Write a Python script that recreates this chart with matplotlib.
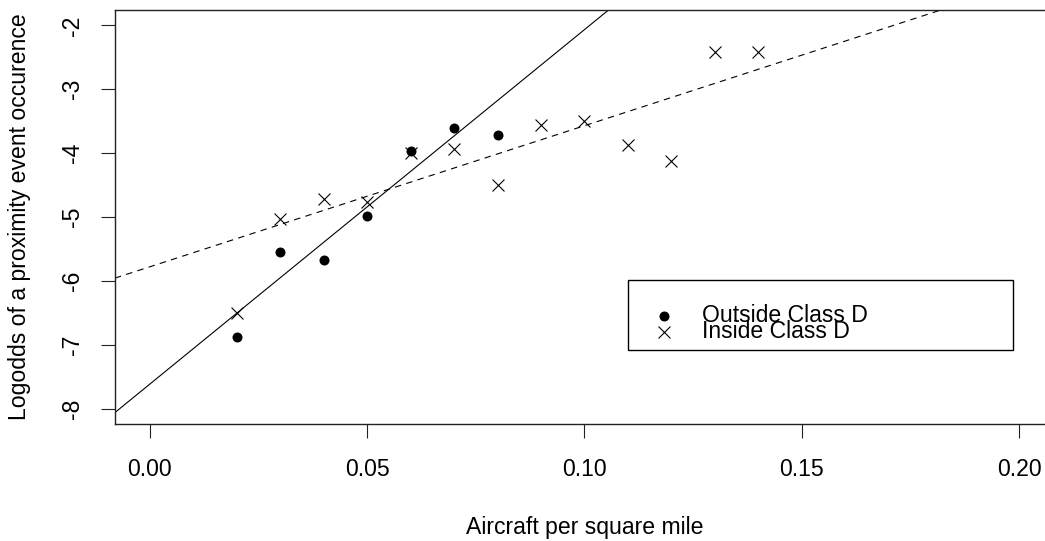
import numpy as np
import matplotlib
matplotlib.use('Agg')
import matplotlib.pyplot as plt
from matplotlib.patches import Rectangle

plt.rcParams['font.family'] = ['Liberation Sans', 'DejaVu Sans']
plt.rcParams['axes.unicode_minus'] = False

# density of aircraft vs. log odds, outside / inside class D airspace
xOut = [0.02, 0.03, 0.04, 0.05, 0.06, 0.07, 0.08]
yOut = [-6.88, -5.55, -5.67, -4.99, -3.96, -3.61, -3.72]
xIn = [0.02, 0.03, 0.04, 0.05, 0.06, 0.07, 0.08, 0.09, 0.10, 0.11, 0.12, 0.13, 0.14]
yIn = [-6.51, -5.03, -4.72, -4.76, -4.00, -3.94, -4.50, -3.56, -3.50, -3.87, -4.12, -2.41, -2.41]

# fitted lines (intercept, slope)
fitOut = (-7.617, 55.5)
fitIn = (-5.78, 22.09)

xTicks = [0.00, 0.05, 0.10, 0.15, 0.20]
yTicks = [-8, -7, -6, -5, -4, -3, -2]

FS = 16.6
LW = 0.8

fig = plt.figure(figsize=(10.45, 5.41), dpi=100)
ax = fig.add_axes([0.1100, 0.2163, 0.8986, 0.7652])

ax.scatter(xOut, yOut, s=7.2**2, c='black', marker='o', linewidths=0, label='Outside Class D', zorder=3)
ax.scatter(xIn, yIn, s=8.6**2, c='black', marker='x', linewidths=0.8, label='Inside Class D', zorder=3)

ax.axline((0, fitOut[0]), slope=fitOut[1], color='black', lw=LW)
ax.axline((0, fitIn[0]), slope=fitIn[1], color='black', lw=LW, linestyle=(0, (5.8, 4.8)))

ax.set_xlim(-0.008, 0.208)
ax.set_ylim(-8.24, -1.76)

ax.set_xticks(xTicks)
ax.set_xticklabels(['%.2f' % t for t in xTicks])
ax.set_yticks(yTicks)
ax.set_yticklabels([str(t) for t in yTicks], rotation=90, va='center')
ax.tick_params(axis='both', direction='out', length=9.8, width=LW, labelsize=FS, color='#222222')
ax.tick_params(axis='x', pad=14.5)
ax.tick_params(axis='y', pad=12.5)

for s in ax.spines.values():
    s.set_linewidth(1.0)
    s.set_color('#222222')

ax.set_xlabel('Aircraft per square mile', fontsize=FS)
ax.set_ylabel('Logodds of a proximity event occurence', fontsize=FS)
ax.xaxis.set_label_coords(0.5, -0.222)
ax.yaxis.set_label_coords(-0.0889, 0.5)

# legend box drawn separately so the rows can sit low and tight like R's legend()
ax.add_patch(Rectangle((0.5463, 0.1787), 0.41, 0.169, transform=ax.transAxes,
                       facecolor='white', edgecolor='black', lw=1.0, zorder=4.9))
leg = ax.legend(loc='upper left', bbox_to_anchor=(0.5607, 0.2898), borderaxespad=0,
                fontsize=FS, frameon=False, borderpad=0, labelspacing=-0.29,
                handlelength=1.96, handletextpad=0.66)

plt.savefig('out.png', dpi=100)
